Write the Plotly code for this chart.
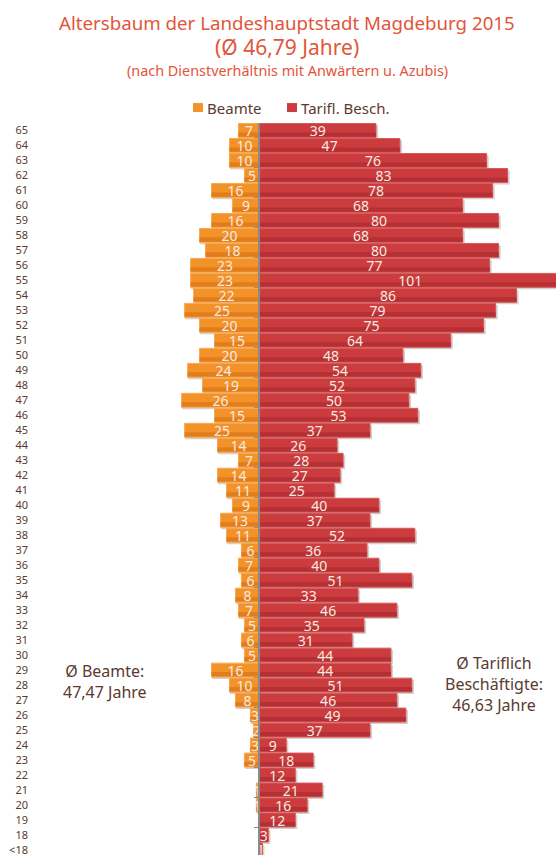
import plotly.graph_objects as go

# Age groups from youngest (bottom) to oldest (top)
ages = ["<18", "18", "19", "20", "21", "22", "23", "24", "25", "26", "27", "28", "29",
        "30", "31", "32", "33", "34", "35", "36", "37", "38", "39", "40", "41", "42",
        "43", "44", "45", "46", "47", "48", "49", "50", "51", "52", "53", "54", "55",
        "56", "57", "58", "59", "60", "61", "62", "63", "64", "65"]

# Headcount per age: civil servants (Beamte)
beamte = [0, 0, 0, 1, 1, 0, 5, 3, 2, 3, 8, 10, 16,
          5, 6, 5, 7, 8, 6, 7, 6, 11, 13, 9, 11, 14,
          7, 14, 25, 15, 26, 19, 24, 20, 15, 20, 25, 22, 23,
          23, 18, 20, 16, 9, 16, 5, 10, 10, 7]

# Headcount per age: employees under collective agreement (Tarifl. Besch.)
tarif = [1, 3, 12, 16, 21, 12, 18, 9, 37, 49, 46, 51, 44,
         44, 31, 35, 46, 33, 51, 40, 36, 52, 37, 40, 25, 27,
         28, 26, 37, 53, 50, 52, 54, 48, 64, 75, 79, 86, 101,
         77, 80, 68, 80, 68, 78, 83, 76, 47, 39]

TXT = "#5a3a30"
TITLE = "#e2553a"
FONT = "Noto Sans"
ORANGE, ORANGE_DK, ORANGE_EDGE = "#f4922a", "#e27d1c", "#f7aa55"
RED, RED_DK, RED_EDGE = "#cc3b3e", "#b43035", "#d65a5a"
LABEL = dict(color="#f6ebe0", size=14, family=FONT)

# page geometry (pixels) used to place items outside the plot area
W, H = 556, 857
ML, MT = 33, 122.5
PW, PH = W - ML, H - MT


def px(x):
    return (x - ML) / PW


def py(y):
    return (H - y) / PH


BW = 0.93          # bar thickness in category units
SH = 0.13          # shadow drop (category units, ~2px)
LOW = 0.36         # share of the bar drawn in the darker shade

left = [-v for v in beamte]
right = tarif
fig = go.Figure()


def bar(x, **kw):
    fig.add_trace(go.Bar(y=ages, x=x, orientation="h", showlegend=False,
                         hoverinfo="skip", **kw))


# soft drop shadows behind the bars
bar([-(v + 0.4) if v else 0 for v in beamte], base=0.6, width=BW, offset=-BW / 2 - SH,
    marker=dict(color="rgba(60,40,30,0.22)", line_width=0))
bar([v + 0.7 if v else 0 for v in tarif], base=0, width=BW, offset=-BW / 2 - SH,
    marker=dict(color="rgba(60,40,30,0.22)", line_width=0))

# bar bodies with a darker lower band for a shaded look
for vals, col, dk, edge in [(left, ORANGE, ORANGE_DK, ORANGE_EDGE),
                            (right, RED, RED_DK, RED_EDGE)]:
    bar(vals, width=BW, marker=dict(color=col, line=dict(color=edge, width=1)))
    bar(vals, width=BW * LOW - 0.05, offset=-BW / 2 + 0.05,
        marker=dict(color=dk, line_width=0))

# value labels on top
for name, vals, src in [("Beamte", left, beamte), ("Tarifl. Besch.", right, tarif)]:
    bar(vals, name=name, width=BW,
        text=[str(v) if v else "" for v in src],
        textposition="inside", insidetextanchor="middle", textangle=0,
        constraintext="none", textfont=LABEL,
        marker=dict(color="rgba(0,0,0,0)", line_width=0))

n = len(ages)
yrange = [-0.334, n - 0.5]
fig.update_layout(
    width=W, height=H,
    margin=dict(l=ML, r=0, t=MT, b=0),
    paper_bgcolor="white", plot_bgcolor="white",
    barmode="overlay",
    font=dict(family=FONT, color=TXT),
    uniformtext=dict(minsize=14, mode="show"),
    showlegend=False,
    xaxis=dict(range=[-75.7, 99.2], showgrid=False, showticklabels=False,
               zeroline=False, showline=False, fixedrange=True),
    yaxis=dict(type="category", categoryorder="array", categoryarray=ages,
               range=yrange, showgrid=False, showline=False,
               ticks="", tickfont=dict(size=11, color=TXT, family=FONT),
               ticklabelstandoff=4),
    yaxis2=dict(type="category", categoryorder="array", categoryarray=ages,
                range=yrange, overlaying="y", anchor="free",
                position=px(259.3), showline=True, linecolor="#8a8a8a",
                linewidth=2, ticks="outside", ticklen=4, tickcolor="#8a8a8a",
                tickson="boundaries", showticklabels=False, showgrid=False),
)

# invisible trace so the axis at zero is drawn with its tick marks
fig.add_trace(go.Scatter(x=[0], y=[ages[0]], yaxis="y2", mode="markers",
                         marker=dict(opacity=0), showlegend=False, hoverinfo="skip"))

# title block
ann = [
    dict(text="Altersbaum der Landeshauptstadt Magdeburg 2015", y=22, size=18.7),
    dict(text="(Ø 46,79 Jahre)", y=46, size=21),
    dict(text="(nach Dienstverhältnis mit Anwärtern u. Azubis)", y=70, size=14.4),
]
for a in ann:
    fig.add_annotation(text=a["text"], x=px(287), y=py(a["y"]), xref="paper", yref="paper",
                       xanchor="center", yanchor="middle", showarrow=False,
                       font=dict(size=a["size"], color=TITLE, family=FONT))

# legend: coloured squares followed by the series names
legend_items = [("Beamte", ORANGE, 193), ("Tarifl. Besch.", RED, 287)]
for name, col, x0 in legend_items:
    fig.add_shape(type="rect", xref="paper", yref="paper",
                  x0=px(x0), x1=px(x0 + 10), y0=py(111.5), y1=py(102.5),
                  fillcolor=col, line_width=0)
    fig.add_annotation(text=name, x=px(x0 + 12), y=py(107), xref="paper", yref="paper",
                       xanchor="left", yanchor="middle", showarrow=False,
                       font=dict(size=15, color=TXT, family=FONT))

# average ages
fig.add_annotation(text="Ø Beamte:<br>47,47 Jahre", x=px(105), y=py(683),
                   xref="paper", yref="paper", xanchor="center", yanchor="middle",
                   showarrow=False, font=dict(size=16, color=TXT, family=FONT))
fig.add_annotation(text="Ø Tariflich<br>Beschäftigte:<br>46,63 Jahre", x=px(494), y=py(685),
                   xref="paper", yref="paper", xanchor="center", yanchor="middle",
                   showarrow=False, font=dict(size=16, color=TXT, family=FONT))

fig.write_html("out.html")
